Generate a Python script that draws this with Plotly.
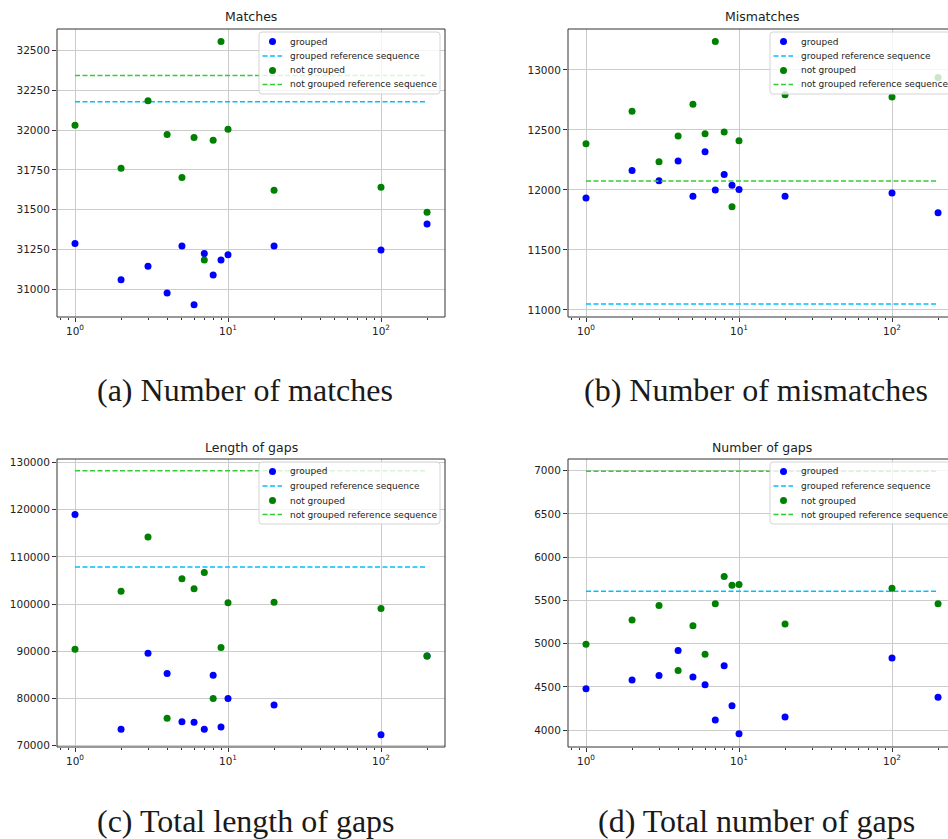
import plotly.graph_objects as go

# ---------------- data ----------------
x_values = [1, 2, 3, 4, 5, 6, 7, 8, 9, 10, 20, 100, 200]

matches_grouped = [31286, 31059, 31143, 30975, 31271, 30901, 31223, 31088, 31183, 31216, 31271, 31246, 31410]
matches_not_grouped = [32031, 31761, 32185, 31973, 31702, 31954, 31183, 31937, 32559, 32006, 31622, 31641, 31483]
matches_ref_grouped = 32179
matches_ref_not_grouped = 32345

mismatches_grouped = [11932, 12162, 12076, 12240, 11946, 12318, 11999, 12129, 12038, 12004, 11946, 11974, 11810]
mismatches_not_grouped = [12384, 12655, 12234, 12448, 12714, 12467, 13236, 12481, 11860, 12409, 12792, 12773, 12936]
mismatches_ref_grouped = 11050
mismatches_ref_not_grouped = 12074

gap_length_grouped = [119020, 73400, 89550, 85230, 75030, 74890, 73400, 84870, 73900, 79920, 78570, 72270, 88980]
gap_length_not_grouped = [90400, 102730, 114200, 75740, 105350, 103230, 106700, 79920, 90760, 100250, 100390, 99050, 88980]
gap_length_ref_grouped = 107830
gap_length_ref_not_grouped = 128300

gap_count_grouped = [4480, 4580, 4633, 4921, 4614, 4526, 4119, 4744, 4284, 3958, 4153, 4836, 4380]
gap_count_not_grouped = [4993, 5273, 5442, 4690, 5208, 4878, 5461, 5776, 5676, 5683, 5227, 5641, 5461]
gap_count_ref_grouped = 5607
gap_count_ref_not_grouped = 6992

panel_titles = ["Matches", "Mismatches", "Length of gaps", "Number of gaps"]
captions = ["(a) Number of matches", "(b) Number of mismatches",
            "(c) Total length of gaps", "(d) Total number of gaps"]
series_names = ["grouped", "grouped reference sequence", "not grouped", "not grouped reference sequence"]

y_ticks = [
    [31000, 31250, 31500, 31750, 32000, 32250, 32500],
    [11000, 11500, 12000, 12500, 13000],
    [70000, 80000, 90000, 100000, 110000, 120000, 130000],
    [4000, 4500, 5000, 5500, 6000, 6500, 7000],
]
y_ranges = [[30824, 32637], [10941, 13340], [69650, 130780], [3806, 7135]]
x_tick_vals = [1, 10, 100]
x_tick_text = ["10<sup>0</sup>", "10<sup>1</sup>", "10<sup>2</sup>"]
x_minor_vals = [0.8, 0.9, 2, 3, 4, 5, 6, 7, 8, 9, 20, 30, 40, 50, 60, 70, 80, 90, 200]

panels = [
    (matches_grouped, matches_ref_grouped, matches_not_grouped, matches_ref_not_grouped),
    (mismatches_grouped, mismatches_ref_grouped, mismatches_not_grouped, mismatches_ref_not_grouped),
    (gap_length_grouped, gap_length_ref_grouped, gap_length_not_grouped, gap_length_ref_not_grouped),
    (gap_count_grouped, gap_count_ref_grouped, gap_count_not_grouped, gap_count_ref_not_grouped),
]

# ---------------- layout geometry (pixels) ----------------
W, H = 948, 839
boxes = [(57, 445, 29, 317), (568, 948, 29, 317), (57, 445, 459, 747), (568, 948, 459, 747)]
true_right = [445, 956, 445, 956]      # right spine (right panels run past the page edge)
x0_px = [75, 586, 75, 586]             # pixel of x=1
decade_px = 153.0

BLUE = "#0000ff"
GREEN = "#008000"
CYAN = "#00bfff"
LIME = "#32cd32"
DASH = "5px,2.5px"


def px(xp):
    return xp / W


def py(yp):
    return 1 - yp / H


fig = go.Figure()
layout = dict(
    width=W, height=H,
    margin=dict(l=0, r=0, t=0, b=0, autoexpand=False),
    paper_bgcolor="white", plot_bgcolor="white",
    font=dict(family="DejaVu Sans", color="#222222", size=10),
    showlegend=False,
)
annotations = []
shapes = []

for i, (g, gref, ng, ngref) in enumerate(panels):
    k = "" if i == 0 else str(i + 1)
    xa, ya = "x" + k, "y" + k
    l, r, t, b = boxes[i]
    tr = true_right[i]
    xr = [(l - x0_px[i]) / decade_px, (r - x0_px[i]) / decade_px]

    fig.add_trace(go.Scatter(x=x_values, y=g, mode="markers", name=series_names[0],
                             marker=dict(color=BLUE, size=7), xaxis=xa, yaxis=ya))
    fig.add_trace(go.Scatter(x=[x_values[0], x_values[-1]], y=[gref, gref], mode="lines",
                             name=series_names[1], line=dict(color=CYAN, width=1.5, dash=DASH),
                             xaxis=xa, yaxis=ya))
    fig.add_trace(go.Scatter(x=x_values, y=ng, mode="markers", name=series_names[2],
                             marker=dict(color=GREEN, size=7), xaxis=xa, yaxis=ya))
    fig.add_trace(go.Scatter(x=[x_values[0], x_values[-1]], y=[ngref, ngref], mode="lines",
                             name=series_names[3], line=dict(color=LIME, width=1.5, dash=DASH),
                             xaxis=xa, yaxis=ya))

    layout["xaxis" + k] = dict(
        type="log", domain=[l / W, r / W], range=xr, anchor=ya,
        tickvals=x_tick_vals, ticktext=x_tick_text, ticks="outside", ticklen=4,
        tickcolor="#333333", showgrid=True, gridcolor="#cccccc", gridwidth=1,
        zeroline=False, showline=False, tickfont=dict(size=10.5, color="#222222"),
        minor=dict(tickvals=x_minor_vals, ticks="outside", ticklen=2, tickcolor="#333333", showgrid=False),
    )
    layout["yaxis" + k] = dict(
        domain=[1 - b / H, 1 - t / H], range=y_ranges[i], anchor=xa,
        tickvals=y_ticks[i], tickformat="d", ticks="outside", ticklen=4, tickcolor="#333333",
        showgrid=True, gridcolor="#cccccc", gridwidth=1, zeroline=False, showline=False,
        tickfont=dict(size=10.5, color="#222222"),
    )
    # frame (spines)
    shapes.append(dict(type="rect", xref="paper", yref="paper",
                       x0=px(l), x1=px(tr), y0=py(b), y1=py(t),
                       line=dict(color="#333333", width=1), layer="above"))

    # legend box (matplotlib style: rounded, semi-transparent)
    L, R, T, B = tr - 186, tr - 5, t + 3, t + 65
    rad = 3
    path = (f"M {px(L + rad)},{py(T)} L {px(R - rad)},{py(T)} Q {px(R)},{py(T)} {px(R)},{py(T + rad)} "
            f"L {px(R)},{py(B - rad)} Q {px(R)},{py(B)} {px(R - rad)},{py(B)} "
            f"L {px(L + rad)},{py(B)} Q {px(L)},{py(B)} {px(L)},{py(B - rad)} "
            f"L {px(L)},{py(T + rad)} Q {px(L)},{py(T)} {px(L + rad)},{py(T)} Z")
    shapes.append(dict(type="path", xref="paper", yref="paper", path=path,
                       fillcolor="rgba(255,255,255,0.8)", line=dict(color="#d4d4d4", width=1),
                       layer="above"))
    rows = [T + 9.5, T + 24, T + 38.5, T + 52.5]
    sym = [("marker", BLUE), ("line", CYAN), ("marker", GREEN), ("line", LIME)]
    for (kind, col), ry, name in zip(sym, rows, series_names):
        if kind == "marker":
            cx = L + 13.5
            shapes.append(dict(type="circle", xref="paper", yref="paper",
                               x0=px(cx - 3.5), x1=px(cx + 3.5), y0=py(ry + 3.5), y1=py(ry - 3.5),
                               fillcolor=col, line=dict(color=col, width=0), layer="above"))
        else:
            shapes.append(dict(type="line", xref="paper", yref="paper",
                               x0=px(L + 3.5), x1=px(L + 23), y0=py(ry), y1=py(ry),
                               line=dict(color=col, width=1.5, dash=DASH), layer="above"))
        annotations.append(dict(text=name, xref="paper", yref="paper", x=px(L + 28.5), y=py(ry),
                                xanchor="left", yanchor="middle", showarrow=False,
                                font=dict(family="DejaVu Sans", size=9, color="#222222")))

    # title
    annotations.append(dict(text=panel_titles[i], xref="paper", yref="paper",
                            x=px((l + tr) / 2), y=py(t - 12),
                            xanchor="center", yanchor="middle", showarrow=False,
                            font=dict(family="DejaVu Sans", size=12.5, color="#222222")))

caption_pos = [(245, 390), (756, 390), (246, 821), (756, 821)]
for cap, (cx, cy) in zip(captions, caption_pos):
    annotations.append(dict(text=cap, xref="paper", yref="paper", x=px(cx), y=py(cy),
                            xanchor="center", yanchor="middle", showarrow=False,
                            font=dict(family="Liberation Serif", size=32, color="#1a1a1a")))

layout["annotations"] = annotations
layout["shapes"] = shapes
fig.update_layout(**layout)
fig.write_html("out.html")
